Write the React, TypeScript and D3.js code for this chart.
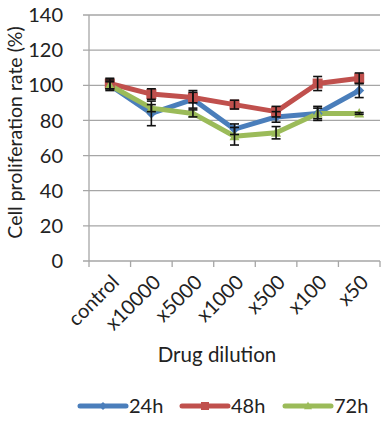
import React from "react";
import * as d3 from "d3";

const categories = ["control", "x10000", "x5000", "x1000", "x500", "x100", "x50"];
const yTicks = [0, 20, 40, 60, 80, 100, 120, 140];

const values24h = [100, 84, 92, 75, 82, 84, 97];
const values48h = [101, 95, 93, 89, 85, 101, 104];
const values72h = [100, 87, 84, 71, 73, 84, 84];

const err24h = [3, 7, 5, 3, 3, 4, 4];
const err48h = [3, 3, 3, 2.5, 3, 4, 3];
const err72h = [2, 2, 2, 5, 3.5, 3, 0.5];

const seriesNames = ["24h", "48h", "72h"];
const seriesColors = ["#4a7ebb", "#c0504d", "#9bbb59"];
const seriesValues = [values24h, values48h, values72h];
const seriesErrors = [err24h, err48h, err72h];

const W = 381;
const H = 422;
const left = 89;
const right = 380;
const top = 15;
const bottom = 261;
const font = "Lato, Carlito, 'Open Sans', sans-serif";

function Marker({ kind, x, y, color, s }: { kind: number; x: number; y: number; color: string; s: number }) {
  if (kind === 0) {
    const p = `M${x},${y - s} L${x + s},${y} L${x},${y + s} L${x - s},${y} Z`;
    return <path d={p} fill={color} />;
  }
  if (kind === 1) {
    return <rect x={x - s} y={y - s} width={2 * s} height={2 * s} fill={color} />;
  }
  const p = `M${x},${y - s * 1.1} L${x + s},${y + s * 0.8} L${x - s},${y + s * 0.8} Z`;
  return <path d={p} fill={color} />;
}

export default function App() {
  const x = d3.scaleBand().domain(categories).range([left, right]);
  const y = d3.scaleLinear().domain([0, 140]).range([bottom, top]);
  const cx = (c: string) => (x(c) as number) + x.bandwidth() / 2;

  const line = d3
    .line<number>()
    .x((_, i) => cx(categories[i]))
    .y((d) => y(d));

  const boundaries = categories.map((c) => x(c) as number).concat([right]);

  const legendX = [80, 182, 285];
  const legendY = 406;

  return (
    <svg width={W} height={H} style={{ position: "absolute", left: 0, top: 0, background: "#fff" }}>
      {/* horizontal gridlines with outward tick stubs */}
      {yTicks.map((t) => (
        <g key={t}>
          <line x1={left - 6} x2={right} y1={y(t)} y2={y(t)} stroke="#a6a6a6" strokeWidth={1.3} />
          <text
            x={left - 26}
            y={y(t)}
            dy="0.36em"
            textAnchor="end"
            fontFamily={font}
            fontSize={20}
            fill="#222"
          >
            {t}
          </text>
        </g>
      ))}
      {/* axes */}
      <line x1={left} x2={left} y1={top} y2={bottom} stroke="#a6a6a6" strokeWidth={1.3} />
      {boundaries.map((b, i) => (
        <line key={i} x1={b} x2={b} y1={bottom} y2={bottom + 6} stroke="#a6a6a6" strokeWidth={1.3} />
      ))}

      {/* category labels rotated */}
      {categories.map((c) => (
        <text
          key={c}
          transform={`translate(${cx(c) + 2},${bottom + 14}) rotate(-45)`}
          textAnchor="end"
          dy="0.6em"
          fontFamily={font}
          fontSize={20}
          fill="#222"
        >
          {c}
        </text>
      ))}

      {/* axis titles */}
      <text
        transform={`translate(22,${132.5}) rotate(-90)`}
        textAnchor="middle"
        fontFamily={font}
        fontSize={19.5}
        fill="#222"
      >
        Cell proliferation rate (%)
      </text>
      <text x={217} y={362} textAnchor="middle" fontFamily={font} fontSize={20.5} fill="#222">
        Drug dilution
      </text>

      {/* series lines */}
      {seriesValues.map((vals, si) => (
        <path
          key={si}
          d={line(vals) as string}
          fill="none"
          stroke={seriesColors[si]}
          strokeWidth={5}
          strokeLinejoin="round"
        />
      ))}
      {/* markers */}
      {seriesValues.map((vals, si) =>
        vals.map((v, i) => (
          <Marker key={`${si}-${i}`} kind={si} x={cx(categories[i])} y={y(v)} color={seriesColors[si]} s={5} />
        ))
      )}
      {/* error bars */}
      {seriesValues.map((vals, si) =>
        vals.map((v, i) => {
          const px = cx(categories[i]);
          const e = seriesErrors[si][i];
          const y1 = y(v + e);
          const y2 = y(v - e);
          return (
            <g key={`e${si}-${i}`} stroke="#111" strokeWidth={1.6}>
              <line x1={px} x2={px} y1={y1} y2={y2} />
              <line x1={px - 4.5} x2={px + 4.5} y1={y1} y2={y1} />
              <line x1={px - 4.5} x2={px + 4.5} y1={y2} y2={y2} />
            </g>
          );
        })
      )}

      {/* legend */}
      {seriesNames.map((n, si) => (
        <g key={n}>
          <line
            x1={legendX[si]}
            x2={legendX[si] + 46}
            y1={legendY}
            y2={legendY}
            stroke={seriesColors[si]}
            strokeWidth={5}
            strokeLinecap="round"
          />
          <Marker kind={si} x={legendX[si] + 23} y={legendY} color={seriesColors[si]} s={4} />
          <text
            x={legendX[si] + 49}
            y={legendY}
            dy="0.36em"
            fontFamily={font}
            fontSize={20}
            fill="#222"
          >
            {n}
          </text>
        </g>
      ))}
    </svg>
  );
}
